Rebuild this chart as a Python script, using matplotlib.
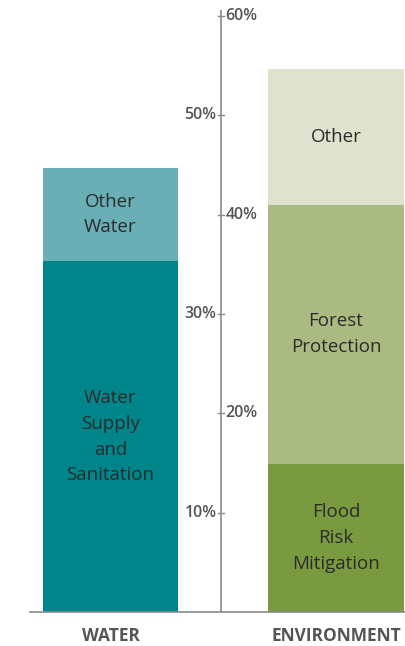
import matplotlib.pyplot as plt
import numpy as np

plt.rcParams['font.family'] = ['Open Sans', 'DejaVu Sans']

categories = ['WATER', 'ENVIRONMENT']
# stacked segments, bottom to top (percent)
water_labels = ['Water\nSupply\nand\nSanitation', 'Other\nWater']
water_values = [35.3, 9.4]
water_colors = ['#00858a', '#6aafb6']
env_labels = ['Flood\nRisk\nMitigation', 'Forest\nProtection', 'Other']
env_values = [14.9, 26.1, 13.7]
env_colors = ['#7a9a3f', '#abba80', '#dfe2cc']
tick_values = [10, 20, 30, 40, 50, 60]

fig = plt.figure(figsize=(4.05, 6.46), dpi=100)
ax = fig.add_axes([30/405, 34/646, 375/405, 602/646])

x = np.arange(len(categories))
width = 0.603
for xi, labels, values, colors in [(x[0], water_labels, water_values, water_colors),
                                   (x[1], env_labels, env_values, env_colors)]:
    bottom = 0
    for lab, v, c in zip(labels, values, colors):
        ax.bar(xi, v, width=width, bottom=bottom, color=c, edgecolor='none')
        ax.text(xi, bottom + v / 2, lab, ha='center', va='center',
                fontsize=13.5, color='#2b2b2b', linespacing=1.55)
        bottom += v

ax.set_xlim(-0.357, 1.306)
ax.set_ylim(0, 60.6)

# central value axis
axis_x = 0.49
ax.axvline(axis_x, color='#8a8a8a', lw=1.2, ymin=-0.005)
for i, t in enumerate(tick_values):
    ax.plot([axis_x - 0.012, axis_x + 0.012], [t, t], color='#8a8a8a', lw=1)
    if i % 2 == 0:
        ax.text(axis_x - 0.02, t, f'{t}%', ha='right', va='center',
                fontsize=11.5, fontweight='semibold', color='#555555')
    else:
        ax.text(axis_x + 0.02, t, f'{t}%', ha='left', va='center',
                fontsize=11.5, fontweight='semibold', color='#555555')

for s in ['left', 'right', 'top']:
    ax.spines[s].set_visible(False)
ax.spines['bottom'].set_color('#8a8a8a')
ax.spines['bottom'].set_linewidth(1.2)
ax.set_yticks([])
ax.set_xticks(x)
ax.set_xticklabels(categories, fontsize=12.5, fontweight='bold', color='#555555')
ax.tick_params(axis='x', length=0, pad=11)

fig.savefig('out.png', dpi=100)
